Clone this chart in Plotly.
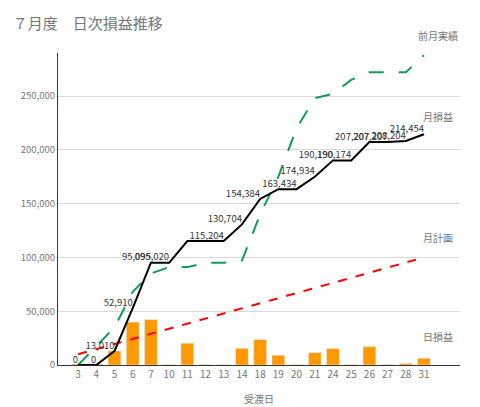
import plotly.graph_objects as go

days = ["3", "4", "5", "6", "7", "10", "11", "12", "13", "14", "18", "19", "20", "21", "24", "25", "26", "27", "28", "31"]
daily = [1000, 1000, 13010, 39900, 42185, 500, 20184, 500, 500, 15500, 23680, 9050, 500, 11500, 15240, 500, 17000, 500, 1500, 6250]
cumulative = [0, 0, 13010, 52910, 95095, 95020, 115204, 115204, 115204, 130704, 154384, 163434, 163434, 174934,
              190190, 190174, 207207, 207207, 208204, 214454]
cum_labels = ["0", "0", "13,010", "52,910", "95,095", "095,020", "", "", "115,204", "130,704", "154,384", "",
              "163,434", "174,934", "190,190", "190,174", "207,207", "207,207", "208,204", "214,454"]
prev_month = [0, 18000, 35000, 68000, 85000, 91000, 91000, 95000, 95000, 97000, 140000, 175000, 220000, 248000,
              252000, 265000, 272000, 272000, 272000, 288000]
plan = [10000, 14700, 19500, 24200, 28900, 33700, 38400, 43200, 47900, 52600, 57400, 62100, 66800, 71600,
        76300, 81100, 85800, 90500, 95300, 100000]

gray = "#757575"
fig = go.Figure()
fig.add_trace(go.Bar(x=days, y=daily, marker=dict(color="#ff9900"), width=0.7))
fig.add_trace(go.Scatter(x=days, y=plan, mode="lines", line=dict(color="#ff0000", width=2, dash="dash")))
fig.add_trace(go.Scatter(x=days, y=prev_month, mode="lines", line=dict(color="#0f9d58", width=2, dash="longdash")))
fig.add_trace(go.Scatter(x=days, y=cumulative, mode="lines+text", text=cum_labels, textposition="top left",
                         textfont=dict(size=9.5, color="#333"), line=dict(color="#000000", width=2)))

for label, y, dy in [("前月実績", 288000, 10), ("月損益", 214454, 8), ("月計画", 100000, 10), ("日損益", 6250, 12)]:
    fig.add_annotation(x=19, y=y, text=label, showarrow=False, xanchor="center", yanchor="bottom",
                       xshift=14, yshift=dy, font=dict(size=10, color=gray))

fig.update_layout(
    width=480, height=407, showlegend=False, plot_bgcolor="white", paper_bgcolor="white",
    font=dict(family="Noto Sans CJK JP, Roboto", color=gray),
    title=dict(text="７月度　日次損益推移", x=0.01, y=0.975, font=dict(size=15, color=gray)),
    margin=dict(l=50, r=28, t=45, b=45), bargap=0.3,
)
fig.update_xaxes(title=dict(text="受渡日", font=dict(size=10)), tickfont=dict(size=10),
                 showline=True, linecolor="#333", ticks="")
fig.update_yaxes(range=[0, 290000], tickvals=[0, 50000, 100000, 150000, 200000, 250000], tickformat=",",
                 tickfont=dict(size=9.5), gridcolor="#d9d9d9", showline=True, linecolor="#333", zeroline=False)
fig.write_html("out.html")
